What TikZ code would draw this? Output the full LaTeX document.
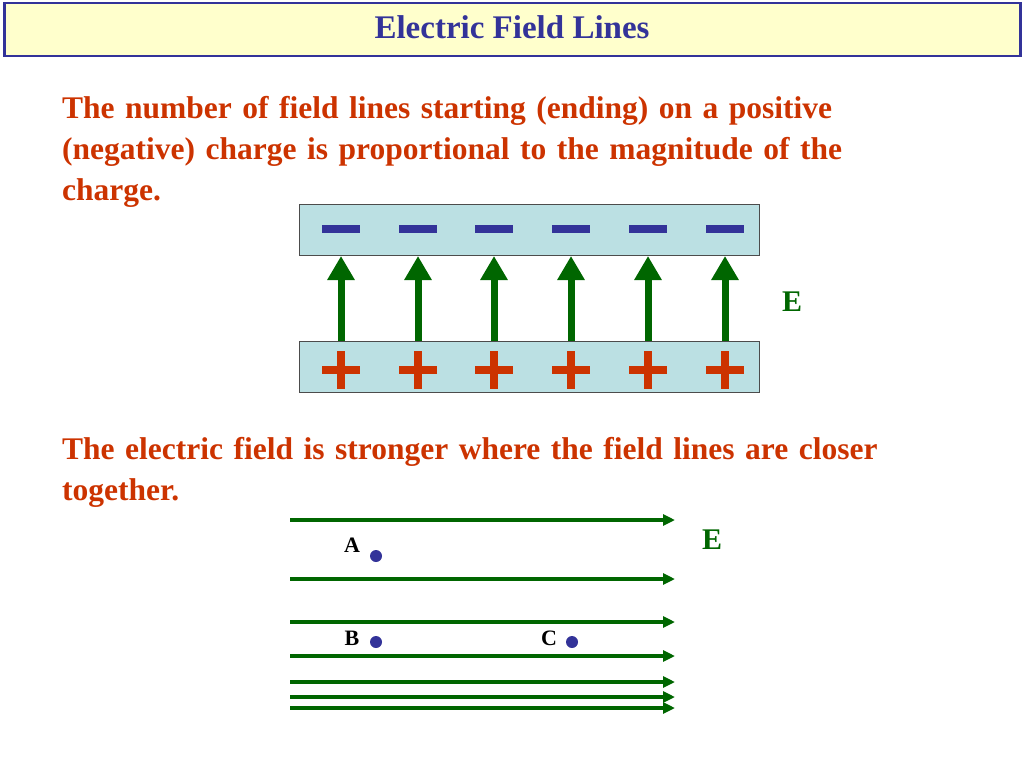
\documentclass[tikz,border=0pt]{standalone}
\usepackage{fontspec}
\setmainfont{Liberation Serif}
\usetikzlibrary{arrows.meta}
\definecolor{navy}{HTML}{333399}
\definecolor{rust}{HTML}{CC3300}
\definecolor{fgreen}{HTML}{006600}
\definecolor{plate}{HTML}{BBE0E3}
\definecolor{ltyellow}{HTML}{FFFFCC}
\tikzset{
  body/.style={text=rust,font=\fontsize{31.5}{41}\selectfont\bfseries,anchor=north west,align=left,inner sep=0pt,text width=900pt},
  platebox/.style={draw=black!70,fill=plate,line width=1pt},
  vfield/.style={draw=fgreen,line width=7pt,-{Triangle[width=26pt,length=24pt]}},
  hfield/.style={draw=fgreen,line width=3.5pt,-{Triangle[width=11pt,length=12pt]}},
  minus/.style={draw=navy,line width=8pt},
  plus/.style={draw=rust,line width=8pt},
  lbl/.style={font=\fontsize{22}{22}\selectfont\bfseries,inner sep=0pt},
  bigE/.style={text=fgreen,font=\fontsize{30}{30}\selectfont\bfseries,inner sep=0pt},
  pt/.style={circle,fill=navy,inner sep=0pt,minimum size=12pt}
}
\begin{document}
\begin{tikzpicture}[x=1pt,y=-1pt]
\useasboundingbox (0,0) rectangle (1024,768);
\node[draw=navy,fill=ltyellow,line width=2.5pt,minimum width=1016pt,minimum height=53pt,inner sep=0pt,anchor=north west] (title) at (3,2) {};
\node[text=navy,font=\fontsize{33}{33}\selectfont\bfseries] (tt) at (512,27) {Electric Field Lines};
\node[body] (t1) at (62,96) {The number of field lines starting (ending) on a positive\\(negative) charge is proportional to the magnitude of the\\charge.};
\node[platebox,minimum width=460pt,minimum height=51pt,inner sep=0pt,anchor=north west] (top) at (299,204) {};
\node[platebox,minimum width=460pt,minimum height=51pt,inner sep=0pt,anchor=north west] (bot) at (299,341) {};
\foreach \x [count=\i] in {341,418,494,571,648,725}{
  \draw[minus] (\x-19,229) -- (\x+19,229);
  \draw[plus] (\x-19,370) -- (\x+19,370) (\x,351) -- (\x,389);
  \coordinate (b\i) at (\x,341);
  \coordinate (u\i) at (\x,256);
  \draw[vfield] (b\i) -- (u\i);
}
\node[bigE] (E1) at (792,302) {E};
\node[body] (t2) at (62,437) {The electric field is stronger where the field lines are closer\\together.};
\foreach \y [count=\i] in {520,579,622,656,682,697,708}{
  \coordinate (l\i) at (290,\y);
  \coordinate (r\i) at (675,\y);
  \draw[hfield] (l\i) -- (r\i);
}
\node[bigE] (E2) at (712,540) {E};
\node[lbl] (A) at (352,545) {A};
\node[pt] (pa) at (376,556) {};
\node[lbl] (B) at (352,638) {B};
\node[pt] (pb) at (376,642) {};
\node[lbl] (C) at (549,638) {C};
\node[pt] (pc) at (572,642) {};
\end{tikzpicture}
\end{document}
